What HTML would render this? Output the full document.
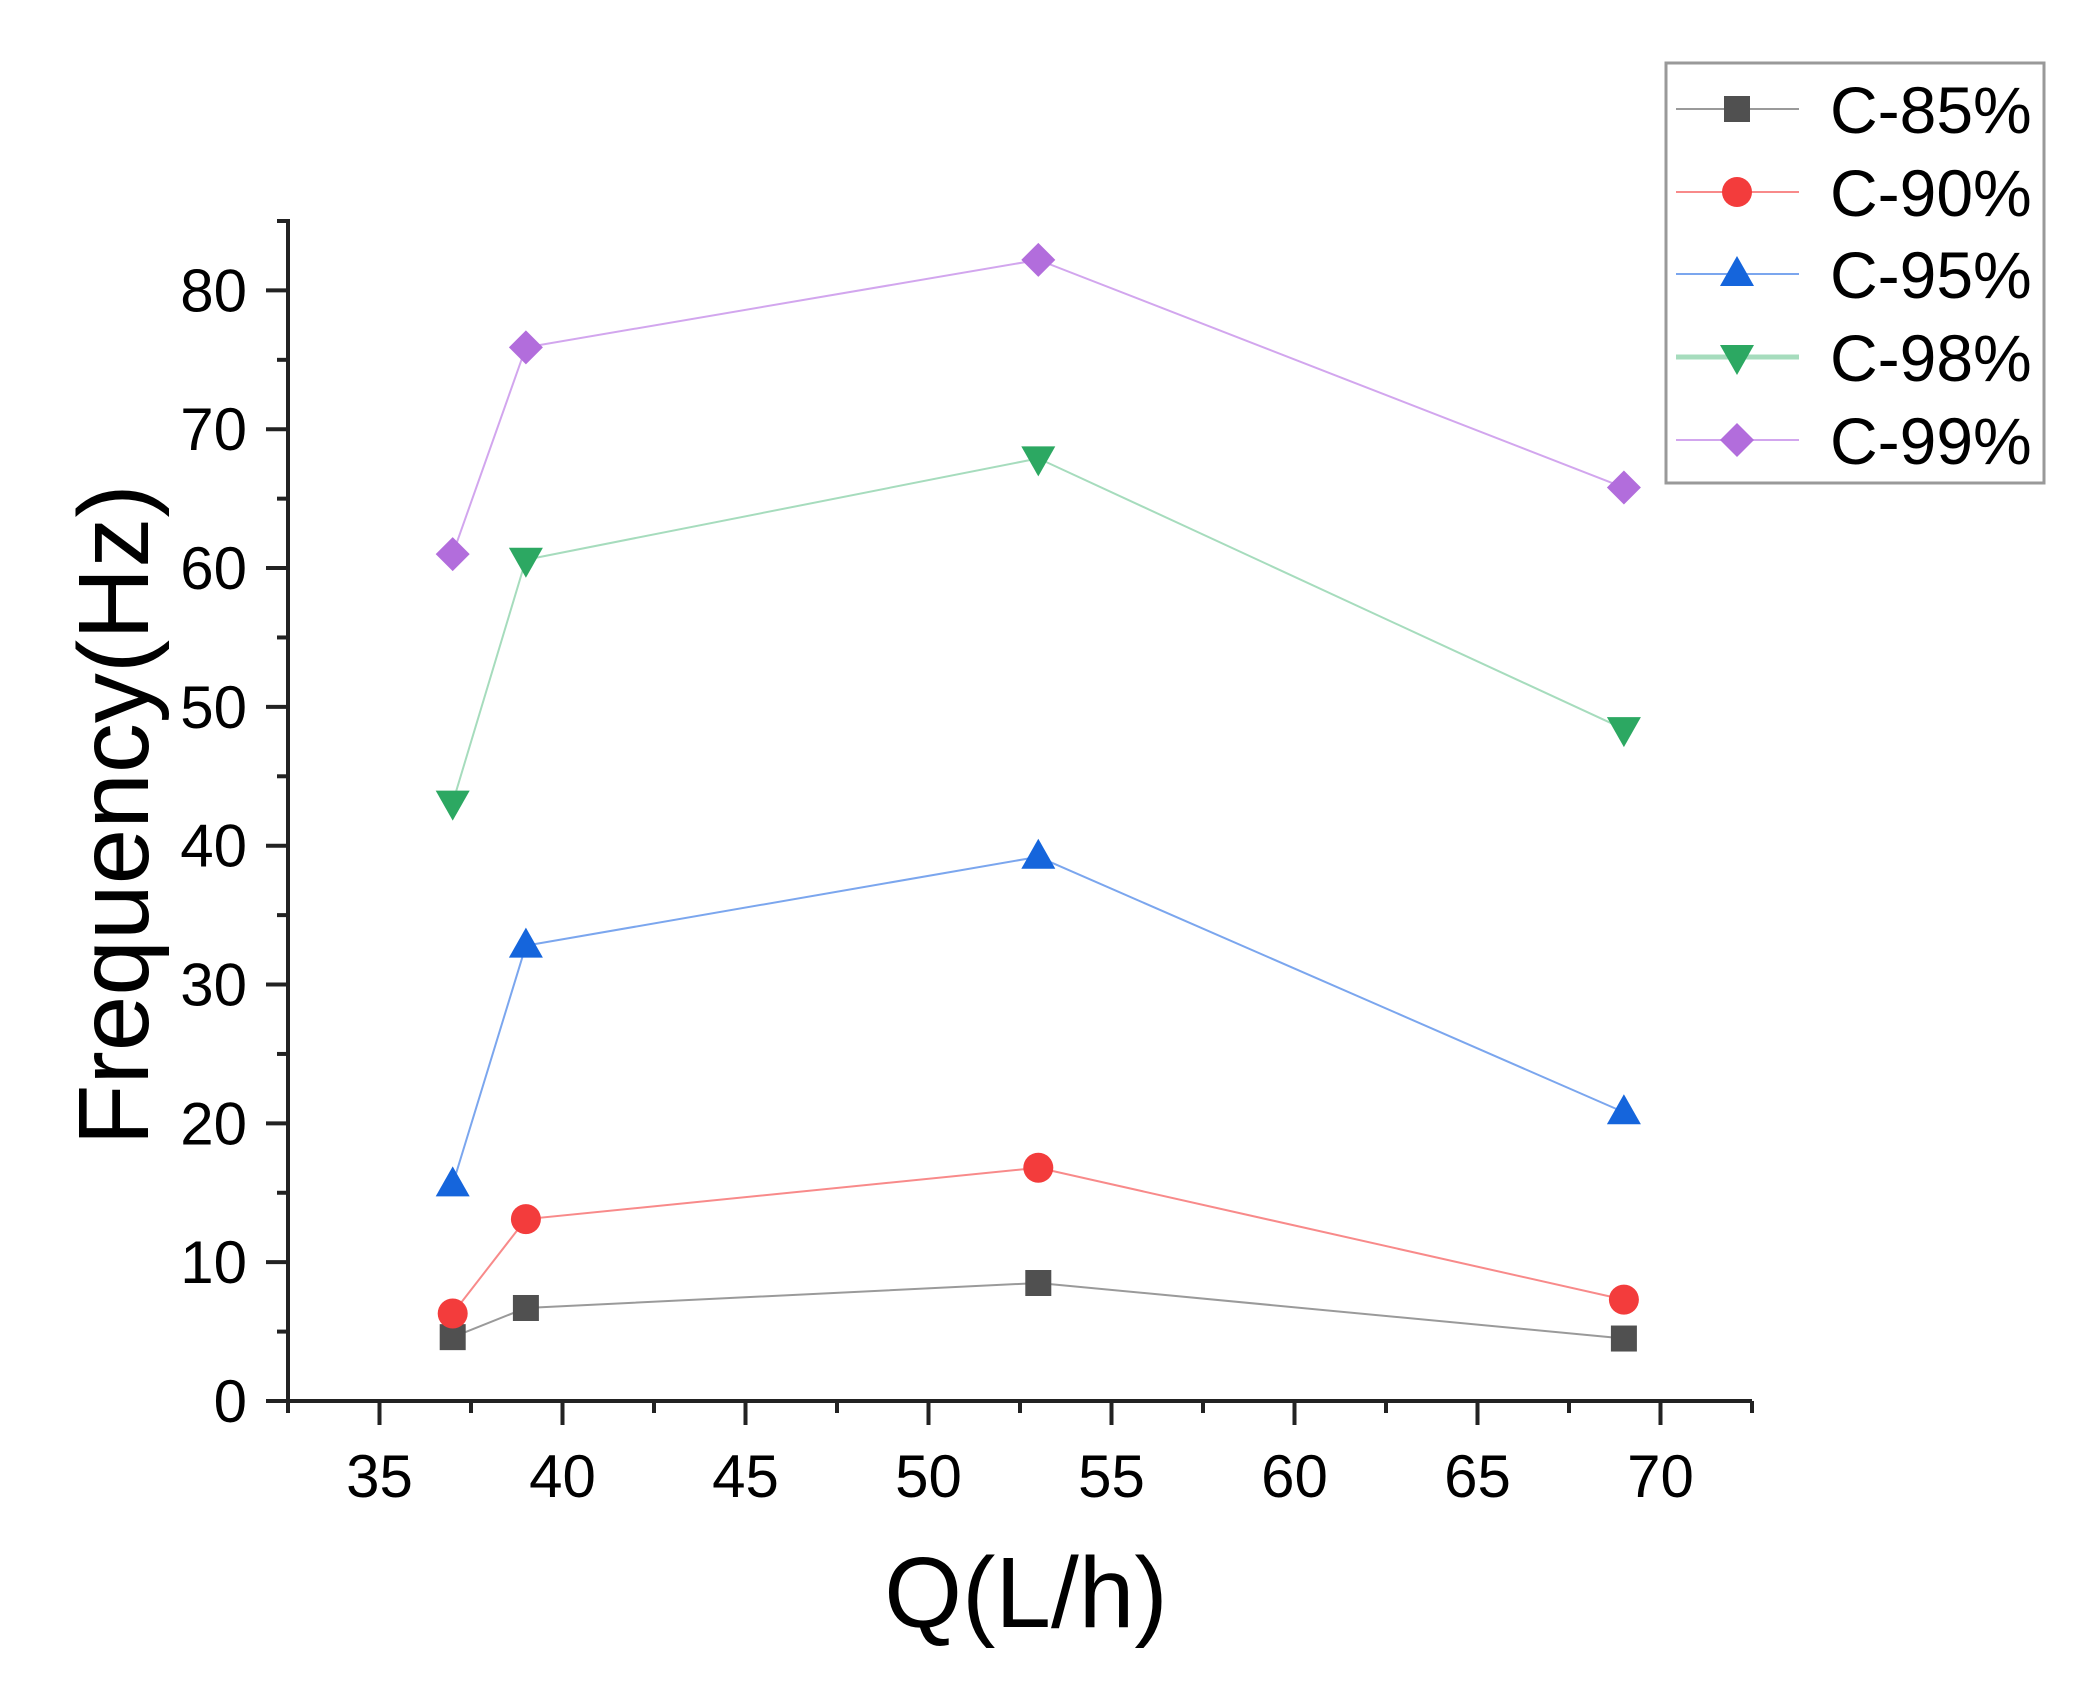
<!DOCTYPE html>
<html><head><meta charset="utf-8">
<style>
html,body{margin:0;padding:0;background:#fff;}
svg{display:block;font-family:"Liberation Sans",Arial,sans-serif;}
</style></head>
<body>
<svg id="chart" width="2092" height="1682" viewBox="0 0 2092 1682" xmlns="http://www.w3.org/2000/svg">
<rect width="2092" height="1682" fill="#fff"/>
<g id="plot"></g>
</svg>
<script>
const categories = [37, 39, 53, 69];
const seriesNames = ["C-85%", "C-90%", "C-95%", "C-98%", "C-99%"];
const c85 = [4.6, 6.7, 8.5, 4.5];
const c90 = [6.3, 13.1, 16.8, 7.3];
const c95 = [15.6, 32.8, 39.2, 20.8];
const c98 = [43.1, 60.6, 67.9, 48.4];
const c99 = [61.0, 75.9, 82.2, 65.8];
const xTicks = [35, 40, 45, 50, 55, 60, 65, 70];
const yTicks = [0, 10, 20, 30, 40, 50, 60, 70, 80];

const NS = "http://www.w3.org/2000/svg";
const g = document.getElementById('plot');
const X0 = 288, X1 = 1752, Y0 = 1401, Y1 = 221;
const xmin = 32.5, xmax = 72.5, ymin = 0, ymax = 85;
function xs(v){ return X0 + (v - xmin) / (xmax - xmin) * (X1 - X0); }
function ys(v){ return Y0 - (v - ymin) / (ymax - ymin) * (Y0 - Y1); }
function el(tag, attrs, parent){
  const e = document.createElementNS(NS, tag);
  for (const k in attrs) e.setAttribute(k, attrs[k]);
  (parent || g).appendChild(e);
  return e;
}

let a = el('line', {x1:X0, y1:Y1-2, x2:X0, y2:Y0+2, stroke:'#222', 'stroke-width':4});


a = el('line', {x1:X0-2, y1:Y0, x2:X1, y2:Y0, stroke:'#222', 'stroke-width':4});


el('line', {x1:X0-10, y1:Y1, x2:X0, y2:Y1, stroke:'#222', 'stroke-width':4});
el('line', {x1:X1, y1:Y0, x2:X1, y2:Y0+12, stroke:'#222', 'stroke-width':4});

yTicks.forEach(v => {
  const y = ys(v);
  el('line', {x1:X0-22, y1:y, x2:X0, y2:y, stroke:'#222', 'stroke-width':4});
  if (v + 5 <= ymax) el('line', {x1:X0-11, y1:ys(v+5), x2:X0, y2:ys(v+5), stroke:'#222', 'stroke-width':4});
  const t = el('text', {x:247, y:y+21, 'font-size':60, 'text-anchor':'end', fill:'#000'});
  t.textContent = v;
  
  
});
xTicks.forEach(v => {
  const x = xs(v);
  el('line', {x1:x, y1:Y0, x2:x, y2:Y0+24, stroke:'#222', 'stroke-width':4});
  if (v + 2.5 < xmax) el('line', {x1:xs(v+2.5), y1:Y0, x2:xs(v+2.5), y2:Y0+12, stroke:'#222', 'stroke-width':4});
  const t = el('text', {x:x, y:1497, 'font-size':60, 'text-anchor':'middle', fill:'#000'});
  t.textContent = v;
  
  
});
el('line', {x1:xs(32.5), y1:Y0, x2:xs(32.5), y2:Y0+12, stroke:'#222', 'stroke-width':4});

let t = el('text', {x:1026, y:1627, 'font-size':100, 'text-anchor':'middle', fill:'#000'});
t.textContent = 'Q(L/h)';


t = el('text', {x:0, y:0, 'font-size':100, 'text-anchor':'middle', fill:'#000', transform:'translate(148,815) rotate(-90)'});
t.textContent = 'Frequency(Hz)';



const values = [c85, c90, c95, c98, c99];
const markerColors = ['#505050', '#f33c3c', '#1565dc', '#2ca862', '#b26ddc'];
const lineColors = ['#9a9a9a', '#f88a8a', '#7ba6ee', '#a6dcbd', '#d2a6ee'];
const shapes = ['square', 'circle', 'up', 'down', 'diamond'];

function marker(shape, x, y, color, parent){
  let m;
  if (shape === 'square') m = el('rect', {x:x-13, y:y-13, width:26, height:26, fill:color}, parent);
  else if (shape === 'circle') m = el('circle', {cx:x, cy:y, r:15, fill:color}, parent);
  else if (shape === 'up') m = el('polygon', {points:`${x},${y-18} ${x+17},${y+12} ${x-17},${y+12}`, fill:color}, parent);
  else if (shape === 'down') m = el('polygon', {points:`${x},${y+18} ${x+17},${y-12} ${x-17},${y-12}`, fill:color}, parent);
  else m = el('polygon', {points:`${x},${y-17} ${x+17},${y} ${x},${y+17} ${x-17},${y}`, fill:color}, parent);
  return m;
}

values.forEach((vals, si) => {
  const grp = el('g', {});
  
  
  const pts = vals.map((v, i) => xs(categories[i]) + ',' + ys(v)).join(' ');
  el('polyline', {points:pts, fill:'none', stroke:lineColors[si], 'stroke-width':2}, grp);
  vals.forEach((v, i) => {
    const m = marker(shapes[si], xs(categories[i]), ys(v), markerColors[si], grp);
    
    
  });
});

const leg = el('g', {});


el('rect', {x:1666, y:63, width:378, height:420, fill:'#fff', stroke:'#999', 'stroke-width':3}, leg);
const rowY = [109, 192, 274, 357, 440];
seriesNames.forEach((name, si) => {
  const y = rowY[si];
  const entry = el('g', {}, leg);
  
  
  el('line', {x1:1676, y1:y, x2:1799, y2:y, stroke:lineColors[si], 'stroke-width': si===3?5:2}, entry);
  marker(shapes[si], 1737, y, markerColors[si], entry);
  const tx = el('text', {x:1830, y:y+24, 'font-size':66, fill:'#000'}, entry);
  tx.textContent = name;
});
</script>
</body></html>
